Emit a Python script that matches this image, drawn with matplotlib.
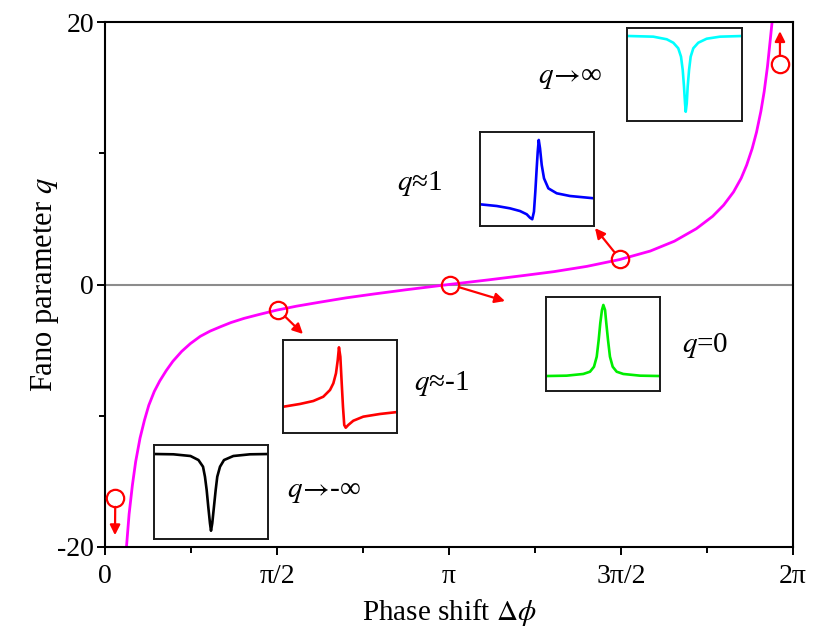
import numpy as np
import matplotlib
matplotlib.use("Agg")
import matplotlib.pyplot as plt

plt.rcParams["font.family"] = ["Liberation Serif", "DejaVu Serif"]
plt.rcParams["mathtext.fontset"] = "stix"
plt.rcParams["axes.unicode_minus"] = False

# main curve (phase in rad, q)
phase_pts = [0.196, 0.22, 0.25, 0.28, 0.32, 0.36, 0.40, 0.45, 0.50, 0.56,
             0.62, 0.70, 0.78, 0.87, 0.96, 1.06, 1.15, 1.27, 1.40, 1.57,
             1.75, 1.96, 2.20, 2.45, 2.75, 3.14, 3.50, 3.82, 4.10, 4.40,
             4.70, 4.98, 5.20, 5.40, 5.55, 5.65, 5.74, 5.81, 5.86, 5.91,
             5.95, 5.99, 6.02, 6.05, 6.075, 6.096]
q_pts = [-20.0, -17.5, -15.3, -13.5, -11.7, -10.35, -9.2, -8.15, -7.35, -6.55,
         -5.85, -5.1, -4.5, -3.95, -3.55, -3.2, -2.9, -2.58, -2.3, -1.95,
         -1.65, -1.35, -1.02, -0.73, -0.4, 0.0, 0.35, 0.68, 0.98, 1.38,
         1.9, 2.55, 3.3, 4.25, 5.2, 6.05, 7.05, 8.1, 9.1, 10.35,
         11.6, 13.2, 14.7, 16.6, 18.6, 20.3]

# marked points and where their arrows point
mark_phase = [0.094, 1.583, 3.151, 4.703, 6.164]
mark_q = [-16.25, -1.94, 0.0, 1.94, 16.78]
tip_phase = [0.091, 1.808, 3.653, 4.475, 6.164]
tip_q = [-19.1, -3.77, -1.26, 4.30, 19.3]

# inset line shapes (normalised to each box)
black_x = [0.01, 0.17, 0.32, 0.39, 0.43, 0.447, 0.462, 0.476, 0.491, 0.50,
           0.511, 0.526, 0.541, 0.555, 0.579, 0.614, 0.696, 0.842, 1.0]
black_y = [0.904, 0.901, 0.883, 0.84, 0.769, 0.663, 0.521, 0.344, 0.167, 0.088,
           0.167, 0.344, 0.521, 0.663, 0.769, 0.84, 0.883, 0.901, 0.904]
red_x = [0.005, 0.151, 0.267, 0.354, 0.413, 0.442, 0.465, 0.48, 0.491, 0.503,
         0.515, 0.526, 0.537, 0.55, 0.572, 0.616, 0.703, 0.849, 1.0]
red_y = [0.280, 0.310, 0.342, 0.388, 0.461, 0.533, 0.641, 0.780, 0.921, 0.820,
         0.533, 0.280, 0.083, 0.054, 0.083, 0.129, 0.173, 0.202, 0.223]
green_x = [0.0, 0.181, 0.327, 0.386, 0.421, 0.445, 0.462, 0.476, 0.491, 0.503,
           0.518, 0.529, 0.544, 0.561, 0.585, 0.62, 0.678, 0.825, 1.0]
green_y = [0.156, 0.160, 0.178, 0.202, 0.255, 0.362, 0.539, 0.717, 0.859, 0.912,
           0.859, 0.717, 0.539, 0.362, 0.255, 0.202, 0.178, 0.160, 0.156]
blue_x = [0.0, 0.146, 0.262, 0.35, 0.409, 0.437, 0.457, 0.472, 0.484, 0.496,
          0.505, 0.514, 0.525, 0.54, 0.56, 0.598, 0.671, 0.787, 1.0]
blue_y = [0.229, 0.211, 0.186, 0.157, 0.122, 0.086, 0.069, 0.150, 0.364, 0.615,
          0.792, 0.918, 0.829, 0.65, 0.507, 0.40, 0.347, 0.318, 0.293]
cyan_x = [0.009, 0.226, 0.343, 0.4, 0.443, 0.467, 0.482, 0.493, 0.502, 0.508,
          0.517, 0.525, 0.537, 0.551, 0.574, 0.617, 0.69, 0.806, 1.0]
cyan_y = [0.909, 0.902, 0.874, 0.837, 0.778, 0.688, 0.545, 0.367, 0.189, 0.099,
          0.189, 0.367, 0.545, 0.688, 0.778, 0.837, 0.880, 0.902, 0.909]

xtick_vals = [0, np.pi / 2, np.pi, 3 * np.pi / 2, 2 * np.pi]
xtick_labels = ["0", "π/2", "π", "3π/2", "2π"]

W, H = 830, 640
fig = plt.figure(figsize=(W / 100, H / 100), dpi=100)
ax = fig.add_axes([105 / W, 1 - 547 / H, 688 / W, 525 / H])

ax.axhline(0, color="#8c8c8c", lw=1.5, zorder=1)
ax.plot(phase_pts, q_pts, color="#ff00ff", lw=2.0, zorder=2)

for mp, mq, tp, tq in zip(mark_phase, mark_q, tip_phase, tip_q):
    ax.annotate("", xy=(tp, tq), xytext=(mp, mq),
                arrowprops=dict(arrowstyle="-|>", color="red", lw=1.6,
                                shrinkA=6.5, shrinkB=0, mutation_scale=15))
ax.plot(mark_phase, mark_q, "o", mfc="none", mec="red", ms=12.5, mew=1.6,
        zorder=5, clip_on=False)

ax.set_xlim(0, 2 * np.pi)
ax.set_ylim(-20, 20)
ax.set_xticks(xtick_vals)
ax.set_xticklabels(xtick_labels)
ax.set_xticks(np.arange(1, 8, 2) * np.pi / 4, minor=True)
ax.set_yticks([-20, 0, 20])
ax.set_yticks([-10, 10], minor=True)
ax.tick_params(which="both", direction="out", width=1.4, labelsize=20,
               top=False, right=False)
ax.tick_params(which="major", length=6)
ax.tick_params(which="minor", length=4)
ax.tick_params(axis="y", pad=2)
ax.tick_params(axis="x", pad=6)
for s in ax.spines.values():
    s.set_linewidth(1.5)

ax.set_xlabel(r"Phase shift $\mathit{\Delta\phi}$", fontsize=21, labelpad=6)
ax.set_ylabel(r"Fano parameter $q$", fontsize=22, labelpad=-3)

# labels next to the insets
ax.text(1.662, -15.8, r"$q\!\rightarrow\!$-∞", fontsize=21, va="center")
ax.text(2.822, -7.58, r"$q$≈-1", fontsize=21, va="center")
ax.text(5.269, -4.61, r"$q$=0", fontsize=21, va="center")
ax.text(2.667, 7.73, r"$q$≈1", fontsize=21, va="center")
ax.text(3.954, 15.73, r"$q\!\rightarrow\!$∞", fontsize=21, va="center")

# insets: (left px, bottom px, width px, height px)
insets = [
    ((154, 539, 114, 94), black_x, black_y, "black"),
    ((282.7, 432.7, 114.6, 92.7), red_x, red_y, "red"),
    ((546, 390.7, 114, 94), green_x, green_y, "#00ee00"),
    ((480, 225.7, 114.3, 93.4), blue_x, blue_y, "blue"),
    ((627.3, 121, 115, 93.5), cyan_x, cyan_y, "cyan"),
]
for (x0, y1, w, h), xs, ys, col in insets:
    iax = fig.add_axes([x0 / W, 1 - y1 / H, w / W, h / H])
    iax.plot(xs, ys, color=col, lw=1.9)
    iax.set_xlim(0, 1)
    iax.set_ylim(0, 1)
    iax.set_xticks([])
    iax.set_yticks([])
    for s in iax.spines.values():
        s.set_linewidth(1.4)
        s.set_color("#1a1a1a")

fig.savefig("out.png", dpi=100)
